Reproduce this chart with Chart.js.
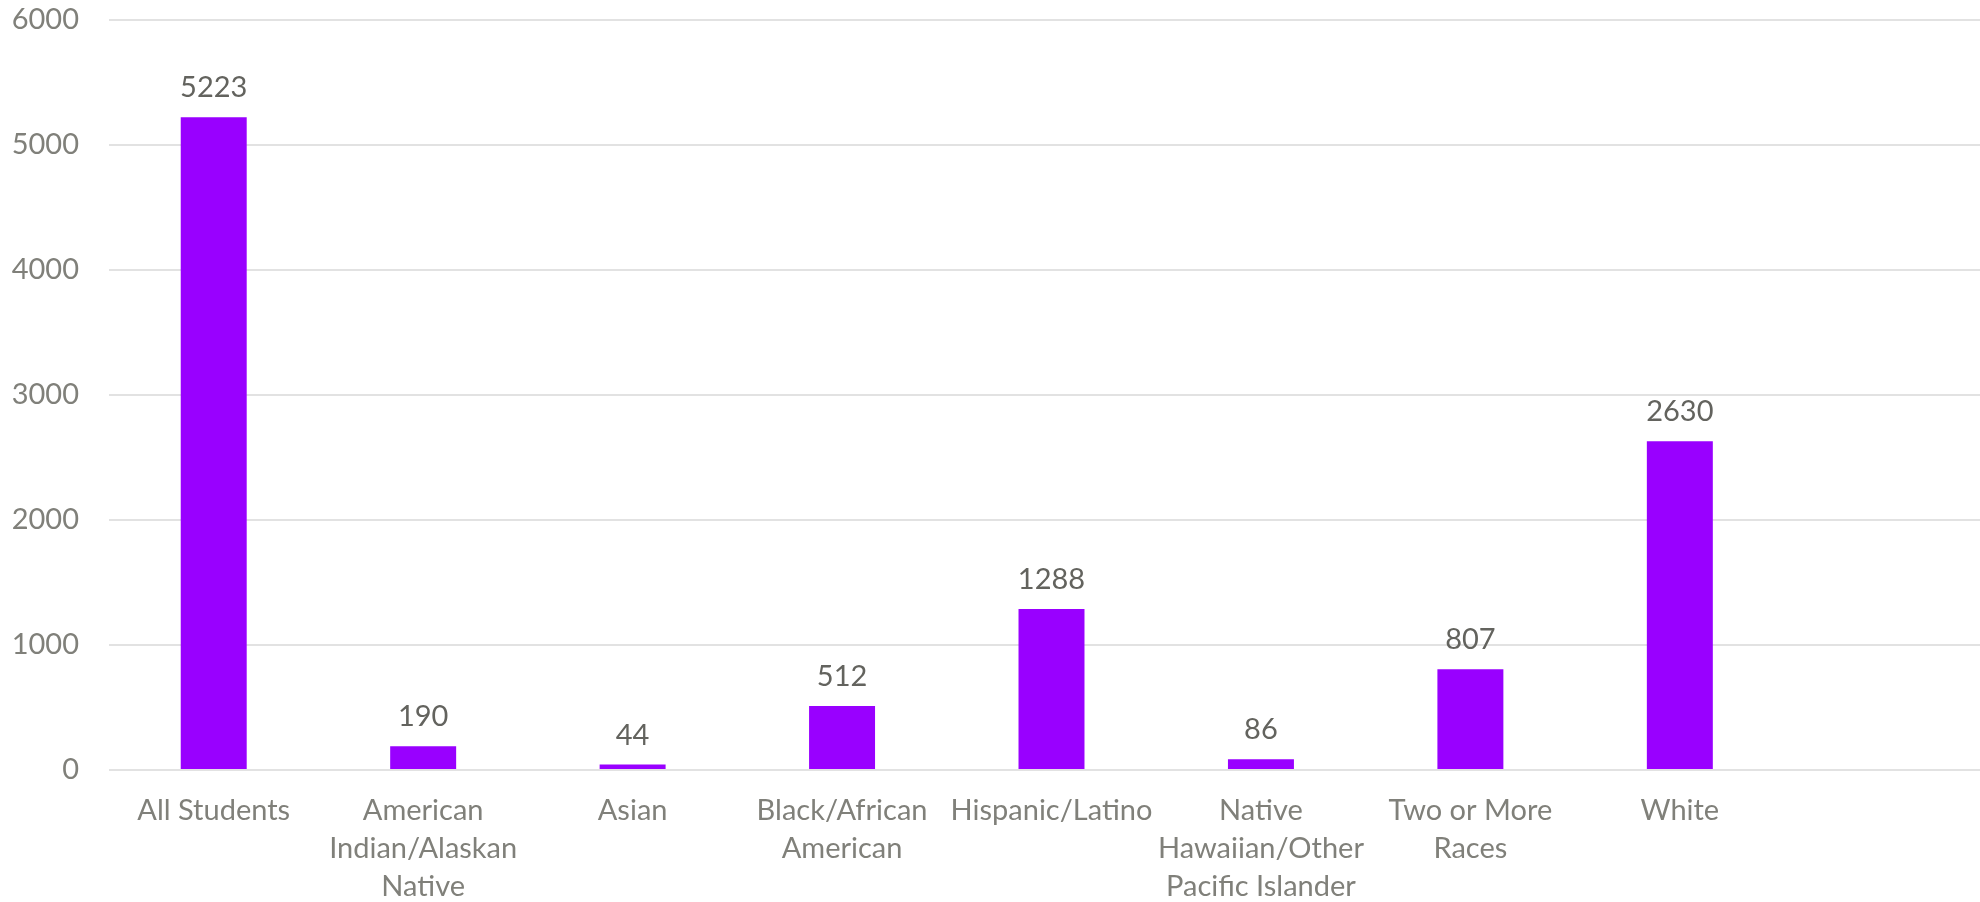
<!DOCTYPE html>
<html>
<head>
<meta charset="utf-8">
<script src="https://cdn.jsdelivr.net/npm/chart.js@4"></script>
<style>
  html, body { margin: 0; padding: 0; background: #fff; overflow: hidden; }
  #frame { width: 1980px; height: 902px; overflow: hidden; }
  #wrap { width: 1994px; height: 902px; position: relative; }
</style>
</head>
<body>
<div id="frame"><div id="wrap"><canvas id="chart"></canvas></div></div>
<script>
// enrolment counts by student group; the last slot is an empty category
const categories = [
  'All Students',
  ['American', 'Indian/Alaskan', 'Native'],
  'Asian',
  ['Black/African', 'American'],
  'Hispanic/Latino',
  ['Native', 'Hawaiian/Other', 'Pacific Islander'],
  ['Two or More', 'Races'],
  'White',
  ''
];
const students = [5223, 190, 44, 512, 1288, 86, 807, 2630, null];
const yTicks = [0, 1000, 2000, 3000, 4000, 5000, 6000];

const FONT = 'Lato, "Open Sans", sans-serif';

// value printed above each bar
const barValues = {
  id: 'barValues',
  afterDatasetsDraw(chart) {
    const ctx = chart.ctx;
    const meta = chart.getDatasetMeta(0);
    ctx.save();
    ctx.font = '29px ' + FONT;
    ctx.fillStyle = '#63635e';
    ctx.textAlign = 'center';
    ctx.textBaseline = 'alphabetic';
    meta.data.forEach((bar, i) => {
      const v = chart.data.datasets[0].data[i];
      if (v == null) return;
      ctx.fillText(String(v), bar.x, bar.y - 20);
    });
    ctx.restore();
  }
};

new Chart(document.getElementById('chart'), {
  type: 'bar',
  data: {
    labels: categories,
    datasets: [{
      data: students,
      backgroundColor: 'rgb(153,0,255)',
      borderWidth: 0,
      barPercentage: 0.315,
      categoryPercentage: 1
    }]
  },
  options: {
    responsive: true,
    maintainAspectRatio: false,
    animation: false,
    layout: { padding: { top: 20, right: 0, bottom: 0, left: 0 } },
    plugins: {
      legend: { display: false },
      tooltip: { enabled: false }
    },
    scales: {
      x: {
        offset: true,
        grid: { display: false, drawTicks: false },
        border: { display: false },
        ticks: {
          color: '#80807a',
          font: { family: FONT, size: 29, lineHeight: 1.3 },
          padding: 22,
          maxRotation: 0,
          minRotation: 0,
          autoSkip: false
        },
        afterFit(scale) { scale.height = 132; }
      },
      y: {
        min: 0,
        max: 6000,
        afterBuildTicks(scale) { scale.ticks = yTicks.map(v => ({ value: v })); },
        grid: { color: '#e2e2e2', lineWidth: 2, drawTicks: false },
        border: { display: false },
        ticks: {
          color: '#80807a',
          font: { family: FONT, size: 29 },
          padding: 30,
          callback: v => String(v)
        },
        afterFit(scale) {
          scale.width = 109;
          scale.paddingTop = 0;
          scale.paddingBottom = 0;
        }
      }
    }
  },
  plugins: [barValues]
});
</script>
</body>
</html>
